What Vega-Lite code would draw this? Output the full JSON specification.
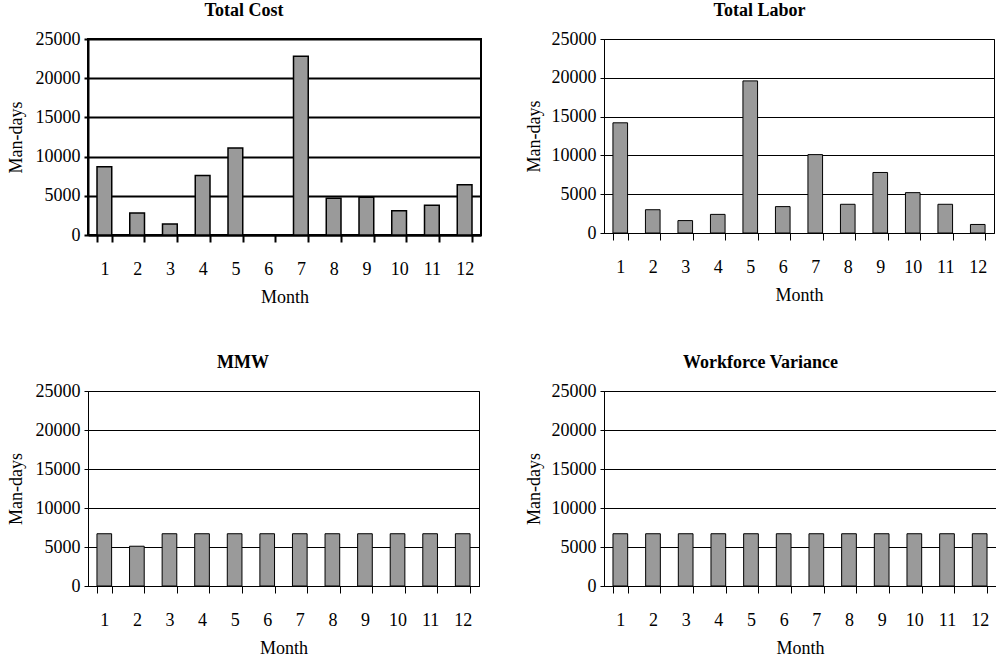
{
  "$schema": "https://vega.github.io/schema/vega-lite/v6.json",
  "background": "white",
  "padding": {"left": 6, "top": 1, "right": 2, "bottom": 4},
  "config": {
    "font": "Liberation Serif",
    "title": {"font": "Liberation Serif", "fontSize": 18, "fontWeight": "bold", "color": "black", "frame": "bounds", "anchor": "middle", "offset": 10},
    "axis": {"labelFont": "Liberation Serif", "labelFontSize": 18, "labelColor": "black", "titleFont": "Liberation Serif", "titleFontSize": 18, "titleFontWeight": "normal", "titleColor": "black", "domainColor": "black", "tickColor": "black", "gridColor": "black", "format": "d"}
  },
  "datasets": {
    "d": [
      {"panel": "Total Cost", "month": 1, "value": 8700},
      {"panel": "Total Cost", "month": 2, "value": 2800},
      {"panel": "Total Cost", "month": 3, "value": 1400},
      {"panel": "Total Cost", "month": 4, "value": 7600},
      {"panel": "Total Cost", "month": 5, "value": 11100},
      {"panel": "Total Cost", "month": 6, "value": 0},
      {"panel": "Total Cost", "month": 7, "value": 22800},
      {"panel": "Total Cost", "month": 8, "value": 4700},
      {"panel": "Total Cost", "month": 9, "value": 4800},
      {"panel": "Total Cost", "month": 10, "value": 3100},
      {"panel": "Total Cost", "month": 11, "value": 3800},
      {"panel": "Total Cost", "month": 12, "value": 6400},
      {"panel": "Total Labor", "month": 1, "value": 14200},
      {"panel": "Total Labor", "month": 2, "value": 3000},
      {"panel": "Total Labor", "month": 3, "value": 1600},
      {"panel": "Total Labor", "month": 4, "value": 2400},
      {"panel": "Total Labor", "month": 5, "value": 19600},
      {"panel": "Total Labor", "month": 6, "value": 3400},
      {"panel": "Total Labor", "month": 7, "value": 10100},
      {"panel": "Total Labor", "month": 8, "value": 3700},
      {"panel": "Total Labor", "month": 9, "value": 7800},
      {"panel": "Total Labor", "month": 10, "value": 5200},
      {"panel": "Total Labor", "month": 11, "value": 3700},
      {"panel": "Total Labor", "month": 12, "value": 1100},
      {"panel": "MMW", "month": 1, "value": 6700},
      {"panel": "MMW", "month": 2, "value": 5100},
      {"panel": "MMW", "month": 3, "value": 6700},
      {"panel": "MMW", "month": 4, "value": 6700},
      {"panel": "MMW", "month": 5, "value": 6700},
      {"panel": "MMW", "month": 6, "value": 6700},
      {"panel": "MMW", "month": 7, "value": 6700},
      {"panel": "MMW", "month": 8, "value": 6700},
      {"panel": "MMW", "month": 9, "value": 6700},
      {"panel": "MMW", "month": 10, "value": 6700},
      {"panel": "MMW", "month": 11, "value": 6700},
      {"panel": "MMW", "month": 12, "value": 6700},
      {"panel": "Workforce Variance", "month": 1, "value": 6700},
      {"panel": "Workforce Variance", "month": 2, "value": 6700},
      {"panel": "Workforce Variance", "month": 3, "value": 6700},
      {"panel": "Workforce Variance", "month": 4, "value": 6700},
      {"panel": "Workforce Variance", "month": 5, "value": 6700},
      {"panel": "Workforce Variance", "month": 6, "value": 6700},
      {"panel": "Workforce Variance", "month": 7, "value": 6700},
      {"panel": "Workforce Variance", "month": 8, "value": 6700},
      {"panel": "Workforce Variance", "month": 9, "value": 6700},
      {"panel": "Workforce Variance", "month": 10, "value": 6700},
      {"panel": "Workforce Variance", "month": 11, "value": 6700},
      {"panel": "Workforce Variance", "month": 12, "value": 6700}
    ]
  },
  "columns": 2,
  "spacing": {"column": 42, "row": 46},
  "concat": [
    {
      "title": "Total Cost",
      "width": 393, "height": 196,
      "view": {"stroke": "black", "strokeWidth": 2},
      "data": {"name": "d"},
      "transform": [{"filter": "datum.panel === 'Total Cost'"}],
      "mark": {"type": "bar", "fill": "#9a9a9a", "stroke": "black", "strokeWidth": 1.5},
      "encoding": {
        "x": {"field": "month", "type": "ordinal", "title": "Month", "scale": {"paddingInner": 0.55, "paddingOuter": 0.275}, "axis": {"labelAngle": 0, "labelFont": "Liberation Serif", "labelFontSize": 18, "titleFont": "Liberation Serif", "tickBand": "extent", "tickSize": 7, "tickWidth": 2, "domainWidth": 2, "labelPadding": 18, "titlePadding": 10}},
        "y": {"field": "value", "type": "quantitative", "title": "Man-days", "scale": {"domain": [0, 25000]}, "axis": {"format": "d", "labelFont": "Liberation Serif", "labelFontSize": 18, "titleFont": "Liberation Serif", "values": [0, 5000, 10000, 15000, 20000, 25000], "gridWidth": 2, "domainWidth": 2, "tickWidth": 2, "tickSize": 4, "labelPadding": 4, "titlePadding": 10}}
      }
    },
    {
      "title": "Total Labor",
      "width": 390, "height": 194,
      "view": {"stroke": "black", "strokeWidth": 1},
      "data": {"name": "d"},
      "transform": [{"filter": "datum.panel === 'Total Labor'"}],
      "mark": {"type": "bar", "fill": "#9a9a9a", "stroke": "black", "strokeWidth": 1},
      "encoding": {
        "x": {"field": "month", "type": "ordinal", "title": "Month", "scale": {"paddingInner": 0.55, "paddingOuter": 0.275}, "axis": {"labelAngle": 0, "labelFont": "Liberation Serif", "labelFontSize": 18, "titleFont": "Liberation Serif", "tickBand": "extent", "tickSize": 7, "labelPadding": 18, "titlePadding": 10}},
        "y": {"field": "value", "type": "quantitative", "title": "Man-days", "scale": {"domain": [0, 25000]}, "axis": {"format": "d", "labelFont": "Liberation Serif", "labelFontSize": 18, "titleFont": "Liberation Serif", "values": [0, 5000, 10000, 15000, 20000, 25000], "tickSize": 4, "labelPadding": 4, "titlePadding": 8}}
      }
    },
    {
      "title": "MMW",
      "width": 391, "height": 195,
      "view": {"stroke": "black", "strokeWidth": 1},
      "data": {"name": "d"},
      "transform": [{"filter": "datum.panel === 'MMW'"}],
      "mark": {"type": "bar", "fill": "#9a9a9a", "stroke": "black", "strokeWidth": 1},
      "encoding": {
        "x": {"field": "month", "type": "ordinal", "title": "Month", "scale": {"paddingInner": 0.55, "paddingOuter": 0.275}, "axis": {"labelAngle": 0, "labelFont": "Liberation Serif", "labelFontSize": 18, "titleFont": "Liberation Serif", "tickBand": "extent", "tickSize": 7, "labelPadding": 18, "titlePadding": 10}},
        "y": {"field": "value", "type": "quantitative", "title": "Man-days", "scale": {"domain": [0, 25000]}, "axis": {"format": "d", "labelFont": "Liberation Serif", "labelFontSize": 18, "titleFont": "Liberation Serif", "values": [0, 5000, 10000, 15000, 20000, 25000], "tickSize": 4, "labelPadding": 4, "titlePadding": 10}}
      }
    },
    {
      "title": "Workforce Variance",
      "width": 392, "height": 195,
      "view": {"stroke": "black", "strokeWidth": 1},
      "data": {"name": "d"},
      "transform": [{"filter": "datum.panel === 'Workforce Variance'"}],
      "mark": {"type": "bar", "fill": "#9a9a9a", "stroke": "black", "strokeWidth": 1},
      "encoding": {
        "x": {"field": "month", "type": "ordinal", "title": "Month", "scale": {"paddingInner": 0.55, "paddingOuter": 0.275}, "axis": {"labelAngle": 0, "labelFont": "Liberation Serif", "labelFontSize": 18, "titleFont": "Liberation Serif", "tickBand": "extent", "tickSize": 7, "labelPadding": 18, "titlePadding": 10}},
        "y": {"field": "value", "type": "quantitative", "title": "Man-days", "scale": {"domain": [0, 25000]}, "axis": {"format": "d", "labelFont": "Liberation Serif", "labelFontSize": 18, "titleFont": "Liberation Serif", "values": [0, 5000, 10000, 15000, 20000, 25000], "tickSize": 4, "labelPadding": 4, "titlePadding": 8}}
      }
    }
  ]
}
